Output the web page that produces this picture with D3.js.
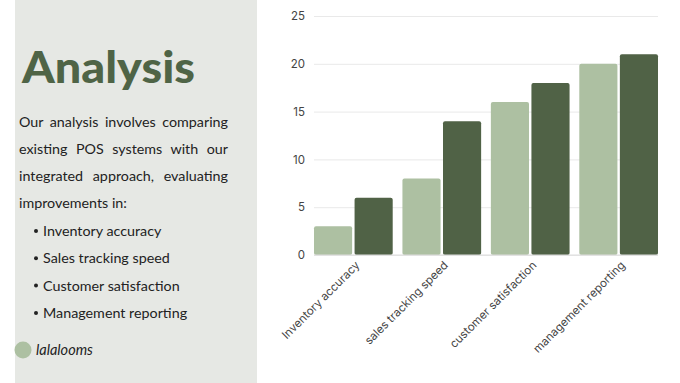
<!DOCTYPE html>
<html>
<head>
<meta charset="utf-8">
<script src="https://cdn.jsdelivr.net/npm/d3@7"></script>
<style>
  body { margin: 0; background: #fff; }
  svg { display: block; }
</style>
</head>
<body>
<svg id="slide" width="680" height="383"></svg>
<script>
// data
const categories = ["Inventory accuracy", "sales tracking speed", "customer satisfaction", "management reporting"]
const seriesNames = ["existing", "integrated"]
const existingValues = [3, 8, 16, 20]
const integratedValues = [6, 14, 18, 21]
const yTicks = [0, 5, 10, 15, 20, 25]

const paragraphLines = [
    "Our analysis involves comparing",
    "existing POS systems with our",
    "integrated approach, evaluating",
    "improvements in:"
]
const bulletItems = ["Inventory accuracy", "Sales tracking speed", "Customer satisfaction", "Management reporting"]

const svg = d3.select("#slide")
const green = "#4f6446"
const light = "#adc0a2"
const dark = "#506246"

// left panel
svg.append("rect").attr("x", 15).attr("y", 0).attr("width", 242).attr("height", 383).attr("fill", "#e6e8e4")

svg.append("text").text("Analysis")
    .attr("x", 22).attr("y", 83)
    .attr("font-family", "Lato").attr("font-weight", 900).attr("font-size", 43)
    .attr("fill", green)
    .attr("textLength", 173).attr("lengthAdjust", "spacingAndGlyphs")

const textFont = "Lato"
const textSize = 14.3
const justifyWidth = 209
paragraphLines.forEach((line, i) => {
    let t = svg.append("text").text(line)
        .attr("x", 19).attr("y", 127 + i * 27)
        .attr("font-family", textFont).attr("font-size", textSize)
        .attr("fill", "#222")
    if (i < paragraphLines.length - 1) {
        let w = t.node().getComputedTextLength()
        let gaps = line.split(" ").length - 1
        t.attr("word-spacing", (justifyWidth - w) / gaps)
    }
})

bulletItems.forEach((item, i) => {
    let y = 236 + i * 27.3
    svg.append("circle").attr("cx", 36).attr("cy", y - 5).attr("r", 2).attr("fill", "#222")
    svg.append("text").text(item)
        .attr("x", 43).attr("y", y)
        .attr("font-family", textFont).attr("font-size", textSize)
        .attr("fill", "#222")
})

svg.append("circle").attr("cx", 23).attr("cy", 350).attr("r", 8.5).attr("fill", light)
svg.append("text").text("lalalooms")
    .attr("x", 36).attr("y", 355)
    .attr("font-family", textFont).attr("font-style", "italic").attr("font-size", 14.5)
    .attr("fill", "#222")

// chart
const x = d3.scaleBand().domain(categories).range([314, 658]).paddingInner(0.11).paddingOuter(0)
const xInner = d3.scaleBand().domain(seriesNames).range([0, x.bandwidth()]).paddingInner(0.06)
const y = d3.scaleLinear().domain([0, 25]).range([255, 16])
const color = d3.scaleOrdinal().domain(seriesNames).range([light, dark])

const yAxis = d3.axisLeft(y).tickValues(yTicks).tickSize(-(658 - 314)).tickPadding(9)
const gy = svg.append("g").attr("transform", "translate(314,0)").call(yAxis)
gy.select(".domain").remove()
gy.selectAll(".tick line").attr("stroke", "#e9e9e9")
gy.selectAll(".tick text").attr("font-family", "Inter").attr("font-size", 11.5).attr("fill", "#444")

const rows = categories.map((c, i) => ({category: c, values: [
    {series: seriesNames[0], value: existingValues[i]},
    {series: seriesNames[1], value: integratedValues[i]}
]}))

svg.append("g").selectAll("g")
    .data(rows)
    .join("g")
    .attr("transform", d => `translate(${x(d.category)},0)`)
    .selectAll("rect")
    .data(d => d.values)
    .join("rect")
    .attr("x", d => xInner(d.series))
    .attr("y", d => y(d.value))
    .attr("width", xInner.bandwidth())
    .attr("height", d => y(0) - y(d.value))
    .attr("rx", 2)
    .attr("fill", d => color(d.series))

svg.append("line").attr("x1", 314).attr("x2", 658).attr("y1", y(0)).attr("y2", y(0)).attr("stroke", "#dcdcdc")

svg.append("g").selectAll("text")
    .data(categories)
    .join("text")
    .text(d => d)
    .attr("transform", d => `translate(${x(d) + x.bandwidth() / 2 + 7},${y(0) + 11}) rotate(-45)`)
    .attr("text-anchor", "end")
    .attr("font-family", "Inter").attr("font-size", 11.5)
    .attr("fill", "#444")
</script>
</body>
</html>
